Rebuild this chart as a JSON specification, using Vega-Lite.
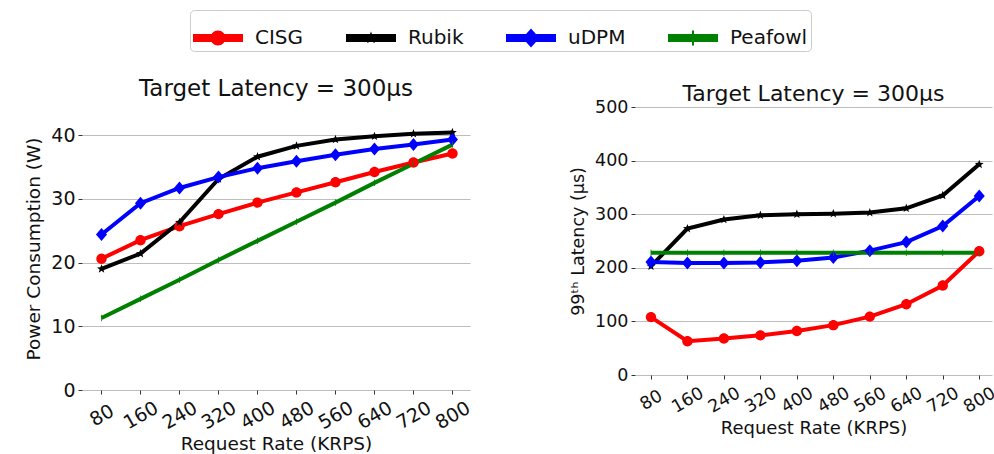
{
  "$schema": "https://vega.github.io/schema/vega-lite/v6.json",
  "background": "white",
  "padding": {"left": 24, "top": 8, "right": 0, "bottom": 0},
  "spacing": 26,
  "config": {
    "font": "DejaVu Sans",
    "view": {"stroke": null},
    "axis": {
      "domain": false,
      "labelColor": "#111111",
      "titleColor": "#111111",
      "titleFontWeight": "normal",
      "tickColor": "#333333",
      "tickSize": 4,
      "gridColor": "#bdbdbd",
      "gridWidth": 1.2,
      "labelOverlap": false
    },
    "title": {"fontWeight": "normal", "color": "#111111"}
  },
  "resolve": {"scale": {"color": "independent", "shape": "independent"}},
  "datasets": {
    "d": [
      {"rate": 80, "series": "CISG", "power": 20.6, "latency": 108},
      {"rate": 160, "series": "CISG", "power": 23.5, "latency": 63},
      {"rate": 240, "series": "CISG", "power": 25.7, "latency": 68},
      {"rate": 320, "series": "CISG", "power": 27.6, "latency": 74},
      {"rate": 400, "series": "CISG", "power": 29.4, "latency": 82},
      {"rate": 480, "series": "CISG", "power": 31.0, "latency": 93},
      {"rate": 560, "series": "CISG", "power": 32.6, "latency": 109},
      {"rate": 640, "series": "CISG", "power": 34.2, "latency": 132},
      {"rate": 720, "series": "CISG", "power": 35.7, "latency": 167},
      {"rate": 800, "series": "CISG", "power": 37.1, "latency": 231},
      {"rate": 80, "series": "Rubik", "power": 19.0, "latency": 203},
      {"rate": 160, "series": "Rubik", "power": 21.4, "latency": 273},
      {"rate": 240, "series": "Rubik", "power": 26.3, "latency": 290},
      {"rate": 320, "series": "Rubik", "power": 33.1, "latency": 298},
      {"rate": 400, "series": "Rubik", "power": 36.6, "latency": 300},
      {"rate": 480, "series": "Rubik", "power": 38.3, "latency": 301},
      {"rate": 560, "series": "Rubik", "power": 39.3, "latency": 303},
      {"rate": 640, "series": "Rubik", "power": 39.8, "latency": 311},
      {"rate": 720, "series": "Rubik", "power": 40.2, "latency": 335},
      {"rate": 800, "series": "Rubik", "power": 40.4, "latency": 393},
      {"rate": 80, "series": "uDPM", "power": 24.4, "latency": 211},
      {"rate": 160, "series": "uDPM", "power": 29.3, "latency": 209},
      {"rate": 240, "series": "uDPM", "power": 31.7, "latency": 209},
      {"rate": 320, "series": "uDPM", "power": 33.4, "latency": 210},
      {"rate": 400, "series": "uDPM", "power": 34.8, "latency": 213},
      {"rate": 480, "series": "uDPM", "power": 35.9, "latency": 219},
      {"rate": 560, "series": "uDPM", "power": 36.9, "latency": 232},
      {"rate": 640, "series": "uDPM", "power": 37.8, "latency": 248},
      {"rate": 720, "series": "uDPM", "power": 38.5, "latency": 278},
      {"rate": 800, "series": "uDPM", "power": 39.3, "latency": 334},
      {"rate": 80, "series": "Peafowl", "power": 11.3, "latency": 228},
      {"rate": 160, "series": "Peafowl", "power": 14.3, "latency": 228},
      {"rate": 240, "series": "Peafowl", "power": 17.3, "latency": 228},
      {"rate": 320, "series": "Peafowl", "power": 20.4, "latency": 228},
      {"rate": 400, "series": "Peafowl", "power": 23.4, "latency": 228},
      {"rate": 480, "series": "Peafowl", "power": 26.4, "latency": 228},
      {"rate": 560, "series": "Peafowl", "power": 29.4, "latency": 228},
      {"rate": 640, "series": "Peafowl", "power": 32.5, "latency": 228},
      {"rate": 720, "series": "Peafowl", "power": 35.5, "latency": 228},
      {"rate": 800, "series": "Peafowl", "power": 38.5, "latency": 228}
    ]
  },
  "vconcat": [
    {
      "width": 1,
      "height": 1,
      "data": {"name": "d"},
      "mark": {"type": "point", "filled": true, "opacity": 0, "size": 169, "strokeWidth": 0},
      "encoding": {
        "color": {"field": "series", "type": "nominal", "scale": {"domain": ["CISG", "Rubik", "uDPM", "Peafowl"], "range": ["#ff0000", "#000000", "#0000ff", "#008000"]},
          "legend": {"title": null, "orient": "none", "legendX": 108, "legendY": 0, "direction": "horizontal", "columns": 4, "symbolSize": 2500, "symbolStrokeWidth": 0, "symbolOpacity": 1, "labelFontSize": 20, "labelOffset": 12, "labelColor": "#111111", "columnPadding": 42, "padding": 3, "fillColor": "white", "strokeColor": "#cccccc", "cornerRadius": 4, "encode": {"symbols": {"update": {"opacity": {"value": 1}}}}}},
        "shape": {"field": "series", "type": "nominal", "scale": {"domain": ["CISG", "Rubik", "uDPM", "Peafowl"], "range": [
          "M-1,-0.16H1V0.16H-1Z M0.3,0A0.3,0.3 0 1,1 -0.3,0A0.3,0.3 0 1,1 0.3,0Z",
          "M-1,-0.16H1V0.16H-1Z M0,-0.26L0.065,-0.089L0.247,-0.08L0.105,0.034L0.153,0.21L0,0.11L-0.153,0.21L-0.105,0.034L-0.247,-0.08L-0.065,-0.089Z",
          "M-1,-0.16H1V0.16H-1Z M0,-0.38L0.34,0L0,0.38L-0.34,0Z",
          "M-1,-0.16H1V0.16H-1Z M-0.04,-0.3H0.04V0.3H-0.04Z"
        ]},
          "legend": {"title": null, "orient": "none", "legendX": 108, "legendY": 0, "direction": "horizontal", "columns": 4, "symbolSize": 2500, "symbolStrokeWidth": 0, "symbolOpacity": 1, "labelFontSize": 20, "labelOffset": 12, "labelColor": "#111111", "columnPadding": 42, "padding": 3, "fillColor": "white", "strokeColor": "#cccccc", "cornerRadius": 4, "encode": {"symbols": {"update": {"opacity": {"value": 1}}}}}}
      }
    },
    {
      "spacing": 95,
      "hconcat": [
        {
          "width": 388,
          "height": 283,
          "data": {"name": "d"},
          "title": {"text": "Target Latency = 300μs", "fontSize": 23, "frame": "group", "anchor": "middle", "baseline": "alphabetic", "offset": -12},
          "encoding": {
            "x": {
              "field": "rate", "type": "quantitative",
              "scale": {"domain": [40, 836], "nice": false, "zero": false},
              "axis": {"values": [80, 160, 240, 320, 400, 480, 560, 640, 720, 800], "grid": false, "labelAngle": -30, "labelAlign": "center", "labelBaseline": "middle", "labelPadding": 21, "labelFontSize": 19, "title": "Request Rate (KRPS)", "titleFontSize": 18.5, "titlePadding": 2}
            },
            "y": {
              "field": "power", "type": "quantitative",
              "scale": {"domain": [0, 44.4], "nice": false},
              "axis": {"values": [0, 10, 20, 30, 40], "labelFontSize": 19, "labelPadding": 3, "title": "Power Consumption (W)", "titleFontSize": 18.5, "titlePadding": 7}
            },
            "color": {"field": "series", "type": "nominal", "scale": {"domain": ["CISG", "Rubik", "uDPM", "Peafowl"], "range": ["#ff0000", "#000000", "#0000ff", "#008000"]}, "legend": null}
          },
          "layer": [
            {"mark": {"type": "line", "strokeWidth": 4}},
            {
              "mark": {"type": "point", "filled": true, "opacity": 1, "size": 169, "strokeWidth": 0},
              "encoding": {
                "shape": {"field": "series", "type": "nominal", "scale": {"domain": ["CISG", "Rubik", "uDPM", "Peafowl"], "range": [
                  "M0.8,0A0.8,0.8 0 1,1 -0.8,0A0.8,0.8 0 1,1 0.8,0Z",
                  "M0,-0.72L0.176,-0.243L0.685,-0.222L0.285,0.093L0.423,0.582L0,0.3L-0.423,0.582L-0.285,0.093L-0.685,-0.222L-0.176,-0.243Z",
                  "M0,-1L0.85,0L0,1L-0.85,0Z",
                  "M-0.06,-0.5H0.06V0.5H-0.06Z"
                ]}, "legend": null}
              }
            }
          ]
        },
        {
          "width": 357,
          "height": 268,
          "data": {"name": "d"},
          "title": {"text": "Target Latency = 300μs", "fontSize": 22, "frame": "group", "anchor": "middle", "baseline": "alphabetic", "offset": -25},
          "encoding": {
            "x": {
              "field": "rate", "type": "quantitative",
              "scale": {"domain": [45, 828], "nice": false, "zero": false},
              "axis": {"values": [80, 160, 240, 320, 400, 480, 560, 640, 720, 800], "grid": false, "labelAngle": -30, "labelAlign": "center", "labelBaseline": "middle", "labelPadding": 21, "labelFontSize": 17.5, "title": "Request Rate (KRPS)", "titleFontSize": 18, "titlePadding": 4}
            },
            "y": {
              "field": "latency", "type": "quantitative",
              "scale": {"domain": [0, 500], "nice": false},
              "axis": {"values": [0, 100, 200, 300, 400, 500], "labelFontSize": 17.5, "labelPadding": 3, "title": "99ᵗʰ Latency (μs)", "titleFontSize": 17.5, "titlePadding": 7}
            },
            "color": {"field": "series", "type": "nominal", "scale": {"domain": ["CISG", "Rubik", "uDPM", "Peafowl"], "range": ["#ff0000", "#000000", "#0000ff", "#008000"]}, "legend": null}
          },
          "layer": [
            {"mark": {"type": "line", "strokeWidth": 4}},
            {
              "mark": {"type": "point", "filled": true, "opacity": 1, "size": 169, "strokeWidth": 0},
              "encoding": {
                "shape": {"field": "series", "type": "nominal", "scale": {"domain": ["CISG", "Rubik", "uDPM", "Peafowl"], "range": [
                  "M0.8,0A0.8,0.8 0 1,1 -0.8,0A0.8,0.8 0 1,1 0.8,0Z",
                  "M0,-0.72L0.176,-0.243L0.685,-0.222L0.285,0.093L0.423,0.582L0,0.3L-0.423,0.582L-0.285,0.093L-0.685,-0.222L-0.176,-0.243Z",
                  "M0,-1L0.85,0L0,1L-0.85,0Z",
                  "M-0.06,-0.5H0.06V0.5H-0.06Z"
                ]}, "legend": null}
              }
            }
          ]
        }
      ]
    }
  ]
}
